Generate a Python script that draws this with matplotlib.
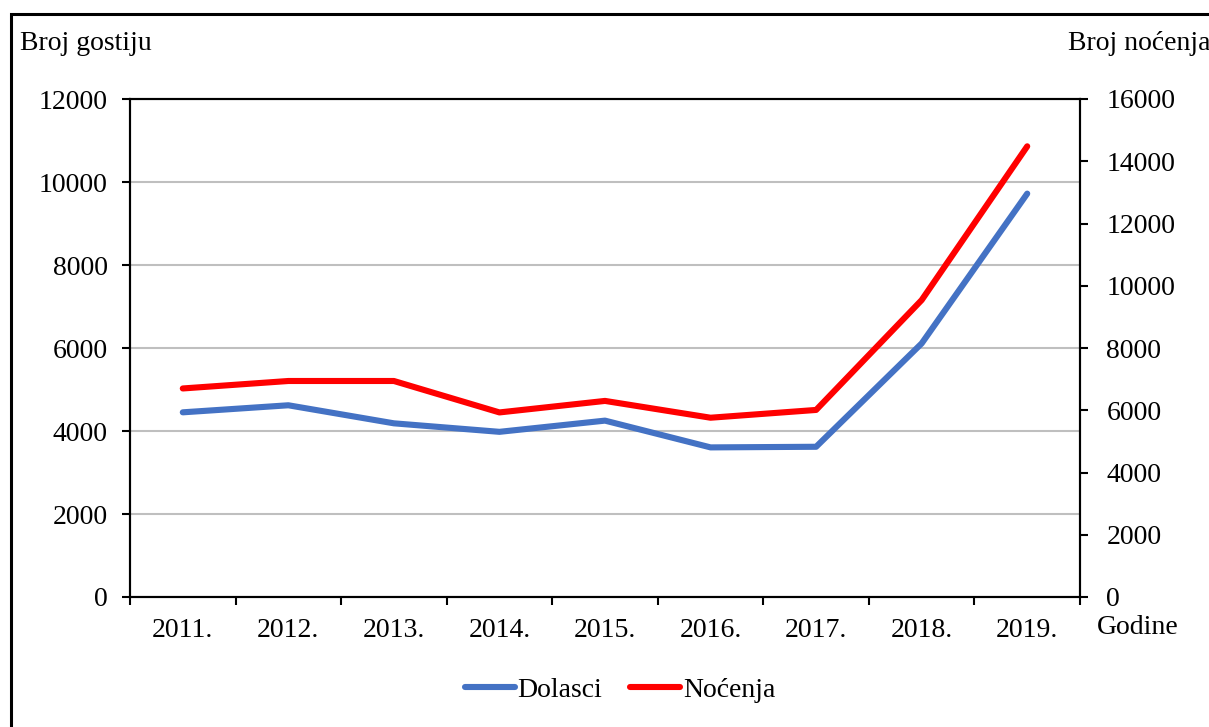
import numpy as np
import matplotlib.pyplot as plt
from matplotlib.patches import Rectangle

# data
godine = ['2011.', '2012.', '2013.', '2014.', '2015.', '2016.', '2017.', '2018.', '2019.']
dolasci = [4450, 4620, 4185, 3980, 4250, 3605, 3620, 6110, 9720]
nocenja = [6700, 6940, 6940, 5930, 6300, 5760, 6010, 9540, 14480]

plt.rcParams['font.family'] = ['Liberation Serif', 'DejaVu Serif']
fs = 20

fig = plt.figure(figsize=(12.09, 7.27), dpi=100)
ax = fig.add_axes([130/1209, 1 - 597/727, 950/1209, 498/727])
ax2 = ax.twinx()

x = np.arange(len(godine))
l1, = ax.plot(x, dolasci, color='#4472C4', lw=4.4, solid_capstyle='round', solid_joinstyle='round', label='Dolasci')
l2, = ax2.plot(x, nocenja, color='#FF0000', lw=4.4, solid_capstyle='round', solid_joinstyle='round', label='Noćenja')

# axes
ax.set_xlim(-0.5, len(godine) - 0.5)
ax.set_ylim(0, 12000)
ax2.set_ylim(0, 16000)
ax.set_yticks(np.arange(0, 12001, 2000))
ax2.set_yticks(np.arange(0, 16001, 2000))
ax.set_xticks(x)
ax.set_xticklabels(godine)
ax.set_xticks(np.arange(-0.5, len(godine), 1), minor=True)
ax.tick_params(axis='x', which='major', length=0, pad=15, labelsize=fs)
ax.tick_params(axis='x', which='minor', length=6, width=1.5, direction='out')
ax.tick_params(axis='y', length=6, width=1.5, pad=10, labelsize=fs)
ax2.tick_params(axis='y', length=6, width=1.5, pad=13, labelsize=fs)
ax.grid(axis='y', color='#bfbfbf', lw=1.5)
ax.set_axisbelow(True)
for a in (ax, ax2):
    for s in a.spines.values():
        s.set_linewidth(1.5)
        s.set_color('black')

# axis titles
fig.text(20/1209, 1 - 43/727, 'Broj gostiju', fontsize=fs, ha='left', va='center')
fig.text(1068/1209, 1 - 43/727, 'Broj noćenja', fontsize=fs, ha='left', va='center')
fig.text(1097/1209, 1 - 628/727, 'Godine', fontsize=fs, ha='left', va='center')

# legend
fig.legend(handles=[l1, l2], loc='center', bbox_to_anchor=(620/1209, 1 - 690/727),
           ncol=2, frameon=False, fontsize=fs, handlelength=1.8, handletextpad=0.1,
           columnspacing=1.0)

# outer frame
fig.patches.append(Rectangle((11/1209, -0.1), 1.2, 1 - 14/727 + 0.1,
                             transform=fig.transFigure, fill=False,
                             edgecolor='black', lw=2.2))

plt.savefig('out.png', dpi=100)
